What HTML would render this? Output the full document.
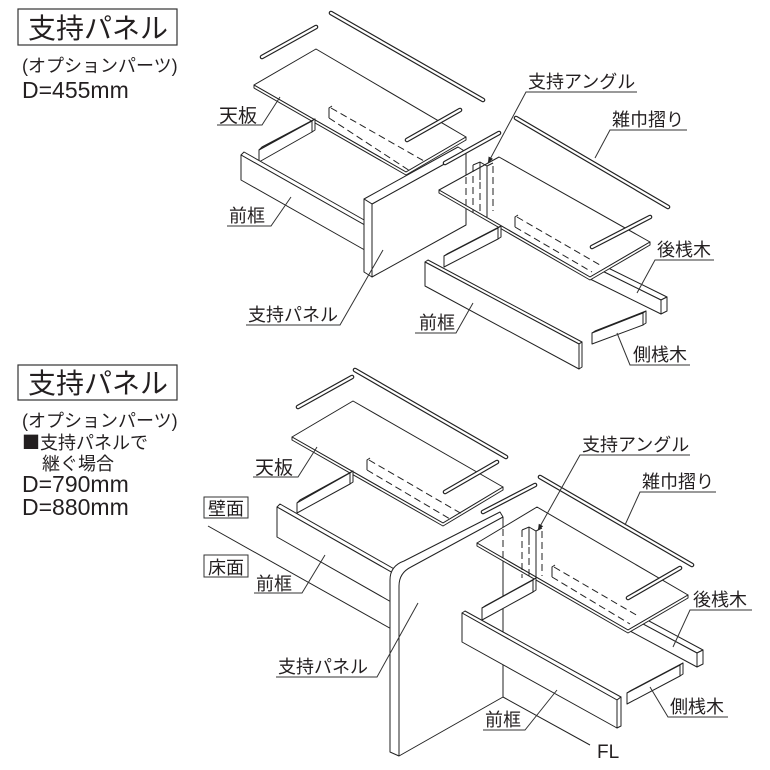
<!DOCTYPE html>
<html><head><meta charset="utf-8">
<style>
body{margin:0;background:#fff}
svg{display:block}
.o{stroke:#222;stroke-width:4.6;stroke-linecap:round}
.i{stroke:#fff;stroke-width:2.2;stroke-linecap:round}
.b{fill:#fff;stroke:#222;stroke-width:1;stroke-linejoin:round}
.l{stroke:#222;stroke-width:1;fill:none}
.d{stroke:#222;stroke-width:1;fill:none;stroke-dasharray:7 4}
.u{stroke:#333;stroke-width:1;fill:none}
text{font-family:"Liberation Sans","Noto Sans CJK JP",sans-serif;fill:#231f20}
.t{font-size:18px}
.t19{font-size:19px}
.big{font-size:28px}
.lat{font-family:"Liberation Sans",sans-serif;font-size:23px}
.cjk{font-family:"Noto Sans CJK JP",sans-serif}
</style></head>
<body>
<svg width="770" height="770" viewBox="0 0 770 770" xmlns="http://www.w3.org/2000/svg">

<!-- ============ LEFT TEXT ============ -->
<rect x="18" y="9" width="159" height="36" fill="none" stroke="#333" stroke-width="1.2"/>
<text class="big" x="28" y="38">支持パネル</text>
<text class="t" x="22" y="72">(オプションパーツ)</text>
<text class="lat" x="22" y="98">D=455mm</text>

<rect x="18" y="365" width="159" height="35" fill="none" stroke="#333" stroke-width="1.2"/>
<text class="big" x="28" y="393">支持パネル</text>
<text class="t" x="22" y="427">(オプションパーツ)</text>
<text class="t" x="22" y="449"><tspan class="cjk">■</tspan>支持パネルで</text>
<text class="t" x="42" y="470">継ぐ場合</text>
<text class="lat" x="22" y="492">D=790mm</text>
<text class="lat" x="22" y="515">D=880mm</text>

<!-- ============ TOP DIAGRAM ============ -->
<!-- left module -->
<line class="o" x1="331" y1="13" x2="483" y2="100"/><line class="i" x1="331" y1="13" x2="483" y2="100"/>
<line class="o" x1="262" y1="57" x2="316" y2="27"/><line class="i" x1="262" y1="57" x2="316" y2="27"/>
<polygon class="b" points="254,85 316,49 466,137 406,172"/>
<polygon class="b" points="254,85 406,172 466,137 466,140 406,175 254,88"/>
<line class="o" x1="407" y1="140" x2="460" y2="110"/><line class="i" x1="407" y1="140" x2="460" y2="110"/>
<path class="l" d="M332,106 L329,108 L329,118"/>
<line class="d" x1="331" y1="108" x2="424" y2="161"/>
<line class="d" x1="329" y1="118" x2="410" y2="171"/>
<!-- left side rail -->
<polygon class="b" points="259,150 262,147 315,119 312,121"/>
<polygon class="b" points="259,150 312,121 312,132 259,162"/>
<polygon class="b" points="312,121 315,119 315,130 312,132"/>
<!-- front frame left -->
<polygon class="b" points="241,155 244,152 373,225 370,228"/>
<polygon class="b" points="241,155 370,228 370,253 241,180"/>
<!-- support panel -->
<polygon class="b" points="372,204 466,152 466,225 372,277"/>
<polygon class="b" points="364,199 458,147 466,152 372,204"/>
<polygon class="b" points="364,199 372,204 372,277 364,272"/>
<line class="o" x1="445" y1="163" x2="499" y2="133"/><line class="i" x1="445" y1="163" x2="499" y2="133"/>

<!-- right module -->
<line class="o" x1="516" y1="118" x2="668" y2="207"/><line class="i" x1="516" y1="118" x2="668" y2="207"/>
<!-- rear rail -->
<polygon class="b" points="592,260 667,297 661,300 586,263"/>
<polygon class="b" points="586,263 661,300 661,314 586,277"/>
<polygon class="b" points="661,300 667,297 667,311 661,314"/>
<!-- panel -->
<polygon class="b" points="439,190 499,157 650,242 590,277"/>
<polygon class="b" points="439,190 590,277 650,242 650,245 590,280 439,193"/>
<line class="o" x1="592" y1="247" x2="650" y2="217"/><line class="i" x1="592" y1="247" x2="650" y2="217"/>
<path class="l" d="M518,215 L515,217 L515,227"/>
<line class="d" x1="517" y1="217" x2="600" y2="265"/>
<line class="d" x1="515" y1="227" x2="592" y2="272"/>
<line class="d" x1="466" y1="177" x2="466" y2="208"/>
<!-- angle -->
<g transform="translate(-49,-365)">
<path class="l" d="M522,530 L529,527 L536,531 L542,528"/>
<line class="l" x1="529" y1="527" x2="529" y2="545"/>
<line class="l" x1="536" y1="531" x2="536" y2="582"/>
<line class="d" x1="522" y1="530" x2="522" y2="578"/>
<line class="d" x1="529" y1="547" x2="529" y2="580"/>
<line class="d" x1="542" y1="531" x2="542" y2="576"/>
</g>
<!-- small side rail right -->
<polygon class="b" points="444,256 447,254 501,226 498,228"/>
<polygon class="b" points="444,256 498,228 498,239 444,267"/>
<polygon class="b" points="498,228 501,226 501,237 498,239"/>
<!-- front frame right -->
<polygon class="b" points="425,262 428,260 582,342 579,344"/>
<polygon class="b" points="425,262 579,344 579,369 425,286"/>
<polygon class="b" points="579,344 582,342 582,367 579,369"/>
<!-- side rail -->
<polygon class="b" points="592,333 595,331 646,311 643,313"/>
<polygon class="b" points="592,333 643,313 643,325 592,344"/>
<polygon class="b" points="643,313 646,311 646,323 643,325"/>

<!-- top labels -->
<text class="t19" x="219" y="122">天板</text>
<path class="u" d="M217,125 L262,125 L280,97"/>
<text class="t" x="229" y="222">前框</text>
<path class="u" d="M227,226 L271,226 L291,197"/>
<text class="t" x="248" y="321">支持パネル</text>
<path class="u" d="M246,325 L340,325 L383,250"/>
<text class="t" x="528" y="88">支持アングル</text>
<path class="u" d="M637,92 L526,92 L488,163"/>
<polygon points="488,163 493,158.9 488.6,156.5" fill="#222"/>
<text class="t" x="612" y="126">雑巾摺り</text>
<path class="u" d="M687,130 L610,130 L595,158"/>
<text class="t" x="657" y="256">後桟木</text>
<path class="u" d="M714,260 L655,260 L637,293"/>
<text class="t" x="419" y="329">前框</text>
<path class="u" d="M415,333 L456,333 L473,303"/>
<text class="t" x="633" y="361">側桟木</text>
<path class="u" d="M690,365 L630,365 L617,333"/>

<!-- ============ BOTTOM DIAGRAM ============ -->
<line class="o" x1="355" y1="370" x2="506" y2="457"/><line class="i" x1="355" y1="370" x2="506" y2="457"/>
<line class="o" x1="298" y1="407" x2="352" y2="377"/><line class="i" x1="298" y1="407" x2="352" y2="377"/>
<polygon class="b" points="292,437 353,401 503,487 443,523"/>
<polygon class="b" points="292,437 443,523 503,487 503,490 443,526 292,440"/>
<line class="o" x1="445" y1="492" x2="497" y2="462"/><line class="i" x1="445" y1="492" x2="497" y2="462"/>
<path class="l" d="M370,458 L367,460 L367,470"/>
<line class="d" x1="369" y1="460" x2="462" y2="514"/>
<line class="d" x1="367" y1="470" x2="450" y2="519"/>
<!-- left side rail -->
<polygon class="b" points="297,503 300,500 353,471 350,473"/>
<polygon class="b" points="297,503 350,473 350,484 297,513"/>
<polygon class="b" points="350,473 353,471 353,482 350,484"/>
<!-- front frame left -->
<polygon class="b" points="277,507 280,504 403,574 400,577"/>
<polygon class="b" points="277,507 400,577 400,607 277,537"/>
<!-- wall line -->
<line class="l" x1="208" y1="526" x2="395" y2="631"/>
<!-- support panel -->
<path class="b" d="M390,752 L390,580 Q390,566 404,561 L500,512 L503,517 L503,697 L399,756 Z"/>
<path class="l" d="M399,756 L399,586 Q399,573 411,567 L503,517"/>
<line class="o" x1="483" y1="512" x2="535" y2="485"/><line class="i" x1="483" y1="512" x2="535" y2="485"/>

<!-- right module -->
<line class="o" x1="540" y1="477" x2="692" y2="565"/><line class="i" x1="540" y1="477" x2="692" y2="565"/>
<polygon class="b" points="636,614 703,650 697,653 630,617"/>
<polygon class="b" points="630,617 697,653 697,667 630,631"/>
<polygon class="b" points="697,653 703,650 703,664 697,667"/>
<polygon class="b" points="477,543 537,507 688,595 628,630"/>
<polygon class="b" points="477,543 628,630 688,595 688,598 628,633 477,546"/>
<line class="o" x1="628" y1="598" x2="680" y2="568"/><line class="i" x1="628" y1="598" x2="680" y2="568"/>
<path class="l" d="M555,565 L552,567 L552,577"/>
<line class="d" x1="554" y1="567" x2="638" y2="616"/>
<line class="d" x1="552" y1="577" x2="630" y2="624"/>
<line class="d" x1="503" y1="529" x2="503" y2="562"/>
<!-- angle -->
<g>
<path class="l" d="M522,530 L529,527 L536,531 L542,528"/>
<line class="l" x1="529" y1="527" x2="529" y2="545"/>
<line class="l" x1="536" y1="531" x2="536" y2="582"/>
<line class="d" x1="522" y1="530" x2="522" y2="578"/>
<line class="d" x1="529" y1="547" x2="529" y2="580"/>
<line class="d" x1="542" y1="531" x2="542" y2="576"/>
</g>
<!-- small side rail -->
<polygon class="b" points="482,608 485,606 536,578 533,580"/>
<polygon class="b" points="482,608 533,580 533,592 482,620"/>
<polygon class="b" points="533,580 536,578 536,590 533,592"/>
<!-- front frame right -->
<polygon class="b" points="462,613 465,611 621,697 617,700"/>
<polygon class="b" points="462,613 617,700 617,728 462,642"/>
<polygon class="b" points="617,700 621,697 621,726 617,728"/>
<!-- side rail -->
<polygon class="b" points="627,693 630,691 683,663 680,665"/>
<polygon class="b" points="627,693 680,665 680,676 627,704"/>
<polygon class="b" points="680,665 683,663 683,674 680,676"/>
<!-- FL line -->
<line class="l" x1="503" y1="697" x2="590" y2="745"/>

<!-- bottom labels -->
<text class="t19" x="255" y="474">天板</text>
<path class="u" d="M253,477 L298,477 L317,447"/>
<rect x="204" y="497" width="44" height="21" fill="none" stroke="#333" stroke-width="1"/>
<text class="t" x="208" y="515">壁面</text>
<rect x="204" y="555" width="44" height="22" fill="none" stroke="#333" stroke-width="1"/>
<text class="t" x="208" y="574">床面</text>
<text class="t" x="256" y="590">前框</text>
<path class="u" d="M254,593 L302,593 L325,555"/>
<text class="t" x="278" y="673">支持パネル</text>
<path class="u" d="M276,677 L377,677 L418,603"/>
<text class="t" x="582" y="451">支持アングル</text>
<path class="u" d="M690,455 L580,455 L538,530"/>
<polygon points="538,530 543.2,526.2 538.8,523.8" fill="#222"/>
<text class="t" x="642" y="488">雑巾摺り</text>
<path class="u" d="M716,492 L640,492 L625,525"/>
<text class="t" x="693" y="606">後桟木</text>
<path class="u" d="M752,610 L690,610 L673,647"/>
<text class="t" x="485" y="726">前框</text>
<path class="u" d="M483,730 L525,730 L557,690"/>
<text class="t" x="670" y="713">側桟木</text>
<path class="u" d="M728,717 L668,717 L650,687"/>
<text x="597" y="758" style="font-family:'Liberation Sans',sans-serif;font-size:19px">FL</text>

</svg>
</body></html>
